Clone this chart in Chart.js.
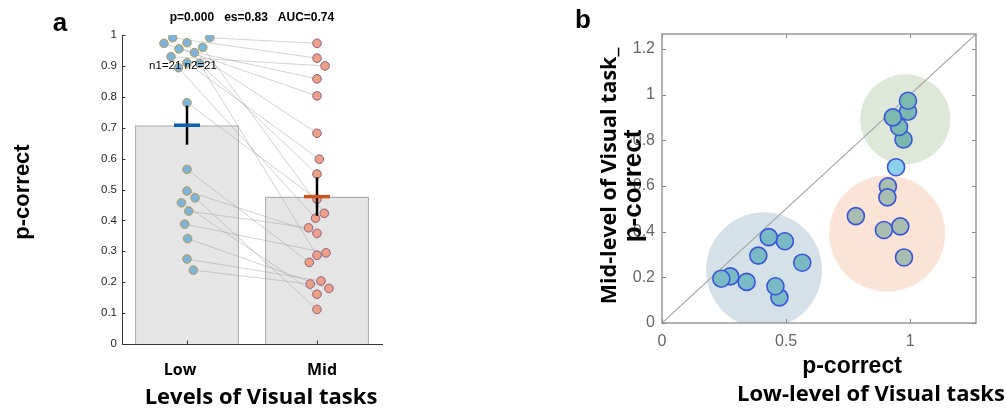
<!DOCTYPE html>
<html><head><meta charset="utf-8">
<script src="https://cdn.jsdelivr.net/npm/chart.js@4.4.1/dist/chart.umd.min.js"></script>
<style>
html,body{margin:0;padding:0;background:#fff;width:1005px;height:408px;overflow:hidden}
#ca{position:absolute;left:0;top:0;width:420px;height:408px}
#cb{position:absolute;left:560px;top:0;width:445px;height:408px}
</style></head><body>
<canvas id="ca" width="420" height="408"></canvas>
<canvas id="cb" width="445" height="408"></canvas>
<script>
// ---------- data ----------
const categories = ['Low', 'Mid'];
// paired scores (same participant at index i)
const lowScores = [0.991,0.991,0.975,0.973,0.960,0.955,0.943,0.930,0.910,0.908,0.894,0.781,0.565,0.495,0.473,0.457,0.430,0.388,0.341,0.275,0.239];
const midScores = [0.925,0.973,0.287,0.803,0.423,0.858,0.682,0.900,0.598,0.550,0.407,0.468,0.264,0.358,0.112,0.161,0.376,0.295,0.180,0.204,0.194];
// horizontal swarm offsets (category units)
const lowJitter = [-0.11,0.175,0,-0.177,0.121,-0.062,0.057,-0.123,0,0.098,-0.066,0,0,0,0.062,-0.043,0.013,-0.018,0.005,0,0.049];
const midJitter = [0,0,0,0,0.056,0,0,0.062,0.018,0,-0.011,0,-0.059,0,0,0,-0.065,0.069,0.092,0.031,-0.052];
const clusterOf = ['high','high','mixed','high','mixed','high','lone','high','mixed','mixed','mixed','mixed','low','low','low','low','low','low','low','low','low'];
const meanScores = [0.708, 0.477];
const errHalf = [0.063, 0.062];
const statsText = 'p=0.000   es=0.83   AUC=0.74';
const nText = 'n1=21 n2=21';
const yTicksA = [0,0.1,0.2,0.3,0.4,0.5,0.6,0.7,0.8,0.9,1];
const xTicksB = [0,0.5,1];
const yTicksB = [0,0.2,0.4,0.6,0.8,1,1.2];
const clusterNames = ['low','mixed','high'];
const clusterX = [0.411, 0.907, 0.980];
const clusterY = [0.231, 0.392, 0.892];
const axisMaxB = 1.265;

// ---------- panel a ----------
const pairLine = [];
lowScores.forEach((v,i)=>{
  pairLine.push({x:lowJitter[i], y:v}, {x:1+midJitter[i], y:midScores[i]}, {x:0.5, y:null});
});
const errSets = categories.map((c,i)=>({
  type:'line', order:2,
  data:[{x:i,y:meanScores[i]-errHalf[i]},{x:i,y:meanScores[i]+errHalf[i]}],
  borderColor:'#000', borderWidth:2.5, pointRadius:0
}));
const meanColors = ['#0b62ad','#c9541c'];
const meanSets = categories.map((c,i)=>({
  type:'line', order:1,
  data:[{x:i-0.1,y:meanScores[i]},{x:i+0.1,y:meanScores[i]}],
  borderColor:meanColors[i], borderWidth:3.5, pointRadius:0
}));

const annotA = {
  id:'annotA',
  afterDraw(chart){
    const {ctx, chartArea:ca, scales:{x,y}} = chart;
    ctx.save();
    ctx.strokeStyle='#333'; ctx.lineWidth=1;
    y.ticks.forEach(t=>{
      const py=Math.round(y.getPixelForValue(t.value))+0.5;
      ctx.beginPath(); ctx.moveTo(ca.left,py); ctx.lineTo(ca.left+3.5,py); ctx.stroke();
    });
    categories.forEach((c,i)=>{
      const px=Math.round(x.getPixelForValue(i))+0.5;
      ctx.beginPath(); ctx.moveTo(px,ca.bottom); ctx.lineTo(px,ca.bottom-3.5); ctx.stroke();
    });
    ctx.fillStyle='#000'; ctx.textBaseline='middle'; ctx.textAlign='center';
    ctx.font='bold 16px "Open Sans"';
    const shift=[-7,5];
    categories.forEach((c,i)=>ctx.fillText(c, x.getPixelForValue(i)+shift[i], 370));
    ctx.font='bold 22px "Open Sans"';
    ctx.fillText('Levels of Visual tasks', 261, 398);
    ctx.font='bold 12px "Liberation Sans"';
    ctx.fillText(statsText, 252, 18);
    ctx.font='11.5px "Liberation Sans"';
    ctx.fillText(nText, 183, 66);
    ctx.font='bold 26px "Liberation Sans"';
    ctx.fillText('a', 60, 24);
    ctx.save();
    ctx.translate(23,192); ctx.rotate(-Math.PI/2);
    ctx.font='bold 22px "Liberation Sans"';
    ctx.fillText('p-correct',0,0);
    ctx.restore();
    ctx.restore();
  }
};

new Chart(document.getElementById('ca'), {
  type:'bar',
  data:{datasets:[
    {type:'bar', order:10, data:categories.map((c,i)=>({x:i,y:meanScores[i]})),
     backgroundColor:'#e5e5e5', borderColor:'#b0b0b0', borderWidth:1.5, borderSkipped:'bottom',
     barPercentage:0.8, categoryPercentage:1},
    {type:'line', order:9, data:pairLine, borderColor:'rgba(150,150,150,0.42)', borderWidth:1, pointRadius:0, spanGaps:false},
    {type:'scatter', order:5, data:lowScores.map((v,i)=>({x:lowJitter[i],y:v})),
     backgroundColor:'#7db4dc', borderColor:'#b39a55', borderWidth:1, pointRadius:4.3},
    {type:'scatter', order:4, data:midScores.map((v,i)=>({x:1+midJitter[i],y:v})),
     backgroundColor:'#eba087', borderColor:'#92607e', borderWidth:1, pointRadius:4.3},
    ...errSets, ...meanSets
  ]},
  options:{
    responsive:false, animation:false, events:[],
    layout:{autoPadding:false, padding:{left:0,top:35,right:38,bottom:64}},
    plugins:{legend:{display:false}, tooltip:{enabled:false}},
    scales:{
      x:{type:'linear', min:-0.5, max:1.5, offset:false,
         ticks:{display:false}, grid:{display:false,drawTicks:false},
         border:{display:true,color:'#333',width:1},
         afterBuildTicks(s){s.ticks=categories.map((c,i)=>({value:i}));},
         afterFit(s){s.height=0;}},
      y:{type:'linear', min:0, max:1,
         ticks:{font:{family:'Liberation Sans',size:11.5}, color:'#262626', padding:5, callback:v=>String(v)},
         grid:{display:false,drawTicks:false},
         border:{display:true,color:'#333',width:1},
         afterBuildTicks(s){s.ticks=yTicksA.map(v=>({value:v}));},
         afterFit(s){s.width=122;}}
    }
  },
  plugins:[annotA]
});

// ---------- panel b ----------
const bgColors = {low:'rgb(213,225,232)', mixed:'rgb(251,228,214)', high:'rgb(222,232,216)'};
const bgRadius = {low:58, mixed:58, high:45};
const ptColors = {low:'rgb(122,186,196)', mixed:'rgb(168,190,176)', high:'rgb(122,184,176)', lone:'rgb(140,208,236)'};

const annotB = {
  id:'annotB',
  afterDraw(chart){
    const {ctx, chartArea:ca, scales:{x,y}} = chart;
    ctx.save();
    ctx.strokeStyle='#9a9a9a'; ctx.lineWidth=1.5;
    ctx.strokeRect(ca.left,ca.top,ca.right-ca.left,ca.bottom-ca.top);
    ctx.lineWidth=1; ctx.strokeStyle='#8a8a8a';
    x.ticks.forEach(t=>{
      const px=Math.round(x.getPixelForValue(t.value))+0.5;
      ctx.beginPath(); ctx.moveTo(px,ca.bottom); ctx.lineTo(px,ca.bottom-4);
      ctx.moveTo(px,ca.top); ctx.lineTo(px,ca.top+4); ctx.stroke();
    });
    y.ticks.forEach(t=>{
      const py=Math.round(y.getPixelForValue(t.value))+0.5;
      ctx.beginPath(); ctx.moveTo(ca.left,py); ctx.lineTo(ca.left+4,py);
      ctx.moveTo(ca.right,py); ctx.lineTo(ca.right-4,py); ctx.stroke();
    });
    ctx.fillStyle='#000'; ctx.textBaseline='middle'; ctx.textAlign='center';
    ctx.font='bold 26px "Liberation Sans"';
    ctx.fillText('b', 23, 21);
    ctx.font='bold 23px "Liberation Sans"';
    ctx.fillText('p-correct', 292, 367);
    ctx.font='bold 22px "Open Sans"';
    ctx.textAlign='left';
    ctx.fillText('Low-level of Visual tasks', 177, 395);
    ctx.textAlign='center';
    ctx.save();
    ctx.translate(50,176); ctx.rotate(-Math.PI/2);
    ctx.font='bold 21.5px "Open Sans"';
    ctx.fillText('Mid-level of Visual task_',0,0);
    ctx.restore();
    ctx.save();
    ctx.translate(74,186); ctx.rotate(-Math.PI/2);
    ctx.font='bold 26px "Liberation Sans"';
    ctx.fillText('p-correct',0,0);
    ctx.restore();
    ctx.restore();
  }
};

new Chart(document.getElementById('cb'), {
  type:'scatter',
  data:{datasets:[
    {type:'scatter', order:10, data:clusterNames.map((n,i)=>({x:clusterX[i],y:clusterY[i]})),
     backgroundColor:clusterNames.map(n=>bgColors[n]), borderWidth:0,
     pointRadius:clusterNames.map(n=>bgRadius[n])},
    {type:'line', order:8, data:[{x:0,y:0},{x:axisMaxB,y:axisMaxB}], borderColor:'#a8a8a8', borderWidth:1.2, pointRadius:0},
    {type:'scatter', order:1, data:lowScores.map((v,i)=>({x:v,y:midScores[i]})),
     backgroundColor:clusterOf.map(c=>ptColors[c]), borderColor:'#3a55da', borderWidth:1.6, pointRadius:8.5}
  ]},
  options:{
    responsive:false, animation:false, events:[],
    layout:{autoPadding:false, padding:{left:0,top:34,right:29,bottom:57}},
    plugins:{legend:{display:false}, tooltip:{enabled:false}},
    scales:{
      x:{type:'linear', min:0, max:axisMaxB,
         ticks:{font:{family:'Liberation Sans',size:16}, color:'#666', padding:9, callback:v=>String(v), maxRotation:0, autoSkip:false},
         grid:{display:false,drawTicks:false}, border:{display:false},
         afterBuildTicks(s){s.ticks=xTicksB.map(v=>({value:v}));},
         afterFit(s){s.height=28;}},
      y:{type:'linear', min:0, max:axisMaxB,
         ticks:{font:{family:'Liberation Sans',size:16}, color:'#666', padding:7, callback:v=>String(v)},
         grid:{display:false,drawTicks:false}, border:{display:false},
         afterBuildTicks(s){s.ticks=yTicksB.map(v=>({value:v}));},
         afterFit(s){s.width=102;}}
    }
  },
  plugins:[annotB]
});
</script>
</body></html>
